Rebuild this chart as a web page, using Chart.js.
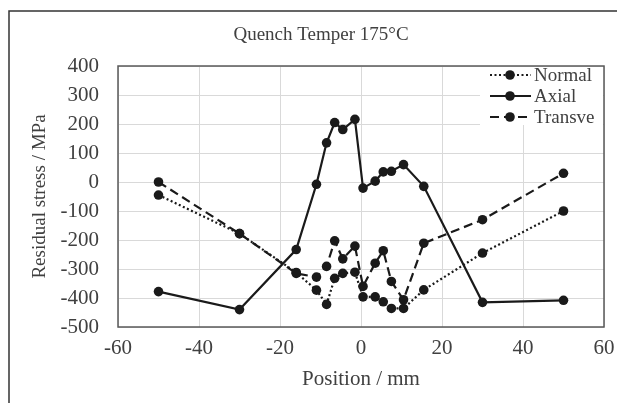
<!DOCTYPE html>
<html>
<head>
<meta charset="utf-8">
<script src="https://cdn.jsdelivr.net/npm/chart.js@4.4.1/dist/chart.umd.min.js"></script>
<style>
  html, body { margin: 0; padding: 0; background: #fff; }
  #wrap { width: 617px; height: 403px; }
</style>
</head>
<body>
<div id="wrap"><canvas id="stressChart" width="617" height="403"></canvas></div>
<script>
// Data
const positions = [-50, -30, -16, -11, -8.5, -6.5, -4.5, -1.5, 0.5, 3.5, 5.5, 7.5, 10.5, 15.5, 30, 50];
const normalStress = [-45, -178, -312, -373, -422, -332, -315, -311, -396, -396, -413, -436, -436, -372, -245, -100];
const axialStress = [-378, -440, -233, -8, 135, 205, 181, 216, -21, 3, 35, 37, 60, -15, -415, -408];
const transverseStress = [0, -178, -315, -328, -291, -203, -265, -221, -360, -280, -237, -343, -406, -211, -130, 30];
const seriesNames = ['Normal', 'Axial', 'Transve'];
const chartTitle = 'Quench Temper 175\u00B0C';
const xTicks = [-60, -40, -20, 0, 20, 40, 60];
const yTicks = [400, 300, 200, 100, 0, -100, -200, -300, -400, -500];

const INK = '#1a1a1a';
const TEXT = '#404040';
const SERIF = '"Liberation Serif", "DejaVu Serif", serif';
const dashes = [[2, 2.5], [], [9, 5]];

function toPoints(vals) {
    return positions.map((x, i) => ({ x: x, y: vals[i] }));
}

function makeSet(label, vals, dash) {
    return {
        label: label,
        data: toPoints(vals),
        borderColor: INK,
        backgroundColor: INK,
        borderWidth: 2.2,
        borderDash: dash,
        pointRadius: 4.8,
        pointBackgroundColor: INK,
        pointBorderColor: INK,
        pointBorderWidth: 0,
        tension: 0,
        fill: false
    };
}

// frame round the figure, title, box round the plot and the legend
const decorations = {
    id: 'decorations',
    beforeDraw(chart) {
        const c = chart.ctx;
        c.save();
        c.fillStyle = '#fff';
        c.fillRect(0, 0, chart.width, chart.height);
        c.strokeStyle = '#333';
        c.lineWidth = 1.5;
        c.strokeRect(9, 11, 700, 500);
        c.fillStyle = TEXT;
        c.font = '19px ' + SERIF;
        c.textAlign = 'center';
        c.textBaseline = 'middle';
        c.fillText(chartTitle, 321, 35);
        c.restore();
    },
    afterDatasetsDraw(chart) {
        const c = chart.ctx;
        const a = chart.chartArea;
        c.save();
        c.strokeStyle = '#595959';
        c.lineWidth = 1.5;
        c.strokeRect(a.left, a.top, a.right - a.left, a.bottom - a.top);

        // legend
        c.fillStyle = '#fff';
        c.fillRect(480, a.top + 1, a.right - 481, 58);
        const rows = [75, 96, 117];
        rows.forEach((y, i) => {
            c.strokeStyle = INK;
            c.lineWidth = 2.2;
            c.setLineDash(dashes[i]);
            c.beginPath();
            c.moveTo(490, y);
            c.lineTo(531, y);
            c.stroke();
            c.setLineDash([]);
            c.fillStyle = INK;
            c.beginPath();
            c.arc(510, y, 4.8, 0, Math.PI * 2);
            c.fill();
            c.fillStyle = TEXT;
            c.font = '19px ' + SERIF;
            c.textAlign = 'left';
            c.textBaseline = 'middle';
            c.fillText(seriesNames[i], 534, y + 1);
        });
        c.restore();
    }
};

const ctx = document.getElementById('stressChart').getContext('2d');
const stressChart = new Chart(ctx, {
    type: 'line',
    data: {
        datasets: [
            makeSet(seriesNames[0], normalStress, dashes[0]),
            makeSet(seriesNames[1], axialStress, dashes[1]),
            makeSet(seriesNames[2], transverseStress, dashes[2])
        ]
    },
    options: {
        responsive: false,
        animation: false,
        devicePixelRatio: 1,
        layout: { padding: { left: 0, right: 13, top: 66, bottom: 0 } },
        plugins: {
            legend: { display: false },
            tooltip: { enabled: false },
            title: { display: false }
        },
        scales: {
            x: {
                type: 'linear',
                min: -60,
                max: 60,
                afterBuildTicks: s => { s.ticks = xTicks.map(v => ({ value: v })); },
                afterFit: s => { s.height = 76; s.paddingLeft = 0; s.paddingRight = 0; },
                grid: { color: '#d9d9d9', lineWidth: 1, drawTicks: false },
                border: { display: false },
                ticks: {
                    color: TEXT,
                    padding: 9,
                    font: { family: SERIF, size: 21 },
                    maxRotation: 0
                },
                title: {
                    display: true,
                    text: 'Position / mm',
                    color: TEXT,
                    font: { family: SERIF, size: 21 },
                    padding: { top: 0, bottom: 11 }
                }
            },
            y: {
                min: -500,
                max: 400,
                afterBuildTicks: s => { s.ticks = yTicks.map(v => ({ value: v })); },
                afterFit: s => { s.width = 118; s.paddingTop = 0; s.paddingBottom = 0; },
                grid: { color: '#d9d9d9', lineWidth: 1, drawTicks: false },
                border: { display: false },
                ticks: {
                    color: TEXT,
                    padding: 19,
                    font: { family: SERIF, size: 21 }
                },
                title: {
                    display: true,
                    text: 'Residual stress / MPa',
                    color: TEXT,
                    font: { family: SERIF, size: 19 },
                    padding: { top: 29 }
                }
            }
        }
    },
    plugins: [decorations]
});
</script>
</body>
</html>
